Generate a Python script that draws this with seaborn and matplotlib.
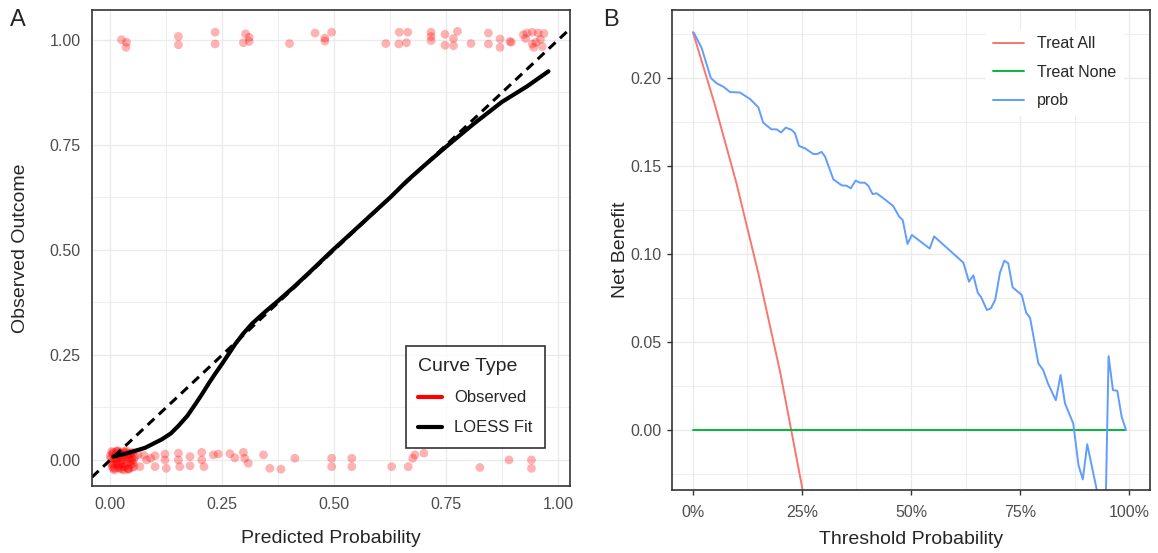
import numpy as np
import pandas as pd
import matplotlib
matplotlib.use("Agg")
import matplotlib.pyplot as plt
import seaborn as sns
from matplotlib.lines import Line2D
from matplotlib.ticker import PercentFormatter

# ---- Panel A: calibration data ----
obs_x = [0.000, 0.004, 0.006, 0.008, 0.010, 0.012, 0.014, 0.016, 0.018, 0.020,
         0.022, 0.024, 0.026, 0.028, 0.030, 0.032, 0.034, 0.036, 0.038, 0.040,
         0.042, 0.045, 0.048, 0.050, 0.053, 0.055, 0.003, 0.009, 0.017, 0.025,
         0.033, 0.041, 0.047, 0.011, 0.021, 0.031, 0.044,
         0.001, 0.005, 0.007, 0.013, 0.015, 0.019, 0.023, 0.027, 0.029, 0.035,
         0.037, 0.039, 0.043, 0.046, 0.049, 0.052, 0.002, 0.006, 0.012, 0.018,
         0.024, 0.030, 0.036, 0.051,
         0.062, 0.066, 0.075, 0.081, 0.090, 0.100, 0.100, 0.122, 0.122, 0.125,
         0.152, 0.152, 0.155, 0.178, 0.178, 0.204, 0.204, 0.209, 0.230, 0.241,
         0.267, 0.278, 0.297, 0.300, 0.308, 0.342, 0.356, 0.381, 0.412, 0.494,
         0.494, 0.539, 0.539, 0.628, 0.665, 0.675, 0.680, 0.700, 0.825, 0.890,
         0.940, 0.940,
         0.025, 0.036, 0.035, 0.152, 0.152, 0.234, 0.234, 0.297, 0.302, 0.310,
         0.310, 0.400, 0.457, 0.479, 0.479, 0.494, 0.615, 0.645, 0.644, 0.664,
         0.661, 0.716, 0.716, 0.716, 0.747, 0.747, 0.766, 0.775, 0.766, 0.805,
         0.844, 0.844, 0.870, 0.870, 0.892, 0.895, 0.922, 0.930, 0.942, 0.955,
         0.968, 0.927, 0.942, 0.950, 0.945, 0.964, 0.960]
obs_y = [0.010, -0.015, 0.018, 0.002, -0.020, 0.012, -0.008, 0.020, -0.018, 0.005,
         -0.012, 0.015, -0.022, 0.000, 0.010, -0.015, 0.018, -0.005, 0.008, -0.020,
         0.014, -0.010, 0.004, 0.018, -0.016, 0.008, 0.020, -0.024, 0.022, -0.006,
         0.016, -0.022, -0.002, 0.004, -0.020, 0.020, 0.012,
         0.004, 0.014, -0.010, 0.020, -0.004, 0.010, 0.018, -0.016, 0.006, -0.010,
         0.012, -0.022, 0.002, 0.016, -0.018, 0.000, -0.008, -0.020, 0.000, -0.012,
         0.008, -0.024, 0.022, -0.008,
         0.012, -0.016, 0.011, 0.000, 0.004, 0.010, -0.016, 0.014, 0.000, -0.020,
         0.016, 0.000, -0.016, 0.008, -0.014, 0.018, 0.000, -0.016, 0.012, 0.014,
         0.015, 0.005, 0.018, 0.004, -0.008, 0.012, -0.020, -0.022, 0.004, 0.004,
         -0.016, 0.004, -0.016, -0.016, -0.016, 0.004, 0.012, 0.016, -0.018, 0.000,
         0.000, -0.020,
         1.000, 0.994, 0.982, 1.008, 0.988, 1.018, 0.990, 0.993, 1.014, 0.996,
         1.006, 0.991, 1.016, 1.004, 0.997, 1.018, 0.991, 1.018, 0.990, 1.018,
         0.993, 1.018, 1.008, 0.998, 1.013, 0.987, 1.003, 1.020, 0.986, 0.991,
         1.016, 0.990, 1.002, 0.982, 0.996, 0.994, 1.012, 1.016, 1.018, 1.016,
         1.015, 1.003, 0.990, 0.994, 0.982, 0.984, 1.001]

loess_x = [0.007, 0.041, 0.078, 0.115, 0.135, 0.152, 0.172, 0.190, 0.205, 0.219,
           0.234, 0.249, 0.264, 0.279, 0.297, 0.316, 0.345, 0.376, 0.410, 0.450,
           0.491, 0.532, 0.580, 0.625, 0.662, 0.700, 0.749, 0.810, 0.874, 0.930,
           0.978]
loess_y = [0.008, 0.017, 0.029, 0.049, 0.063, 0.081, 0.105, 0.133, 0.157, 0.181,
           0.205, 0.228, 0.252, 0.276, 0.301, 0.324, 0.352, 0.380, 0.412, 0.452,
           0.494, 0.534, 0.581, 0.625, 0.664, 0.700, 0.745, 0.799, 0.852, 0.889,
           0.925]

# ---- Panel B: decision curve data ----
all_t = [0.00, 0.05, 0.10, 0.15, 0.20, 0.25, 0.30]
all_nb = [0.226, 0.185, 0.140, 0.089, 0.033, -0.032, -0.106]

none_t = [0.00, 0.99]
none_nb = [0.0, 0.0]

prob_t = [0.002, 0.020, 0.041, 0.054, 0.070, 0.085, 0.108, 0.131, 0.150, 0.161,
          0.180, 0.192, 0.202, 0.213, 0.226, 0.234, 0.243, 0.257, 0.276, 0.285,
          0.295, 0.303, 0.322, 0.341, 0.352, 0.362, 0.373, 0.383, 0.394, 0.402,
          0.412, 0.421, 0.437, 0.459, 0.473, 0.481, 0.492, 0.502, 0.543, 0.553,
          0.620, 0.633, 0.643, 0.653, 0.661, 0.674, 0.683, 0.693, 0.704, 0.714,
          0.723, 0.733, 0.754, 0.764, 0.773, 0.792, 0.803, 0.814, 0.832, 0.843,
          0.853, 0.872, 0.884, 0.894, 0.904, 0.926, 0.936, 0.945, 0.953, 0.963,
          0.973, 0.983, 0.993]
prob_nb = [0.2257, 0.217, 0.200, 0.197, 0.195, 0.192, 0.1917, 0.188, 0.1833, 0.1746,
           0.1708, 0.1708, 0.169, 0.1718, 0.1705, 0.1686, 0.1614, 0.160, 0.1568, 0.1568,
           0.158, 0.1553, 0.1424, 0.139, 0.1388, 0.1373, 0.1417, 0.1405, 0.1405, 0.1388,
           0.134, 0.1345, 0.1316, 0.1273, 0.1212, 0.1193, 0.1057, 0.1108, 0.1031, 0.110,
           0.0951, 0.0843, 0.0879, 0.078, 0.0754, 0.0682, 0.0691, 0.0739, 0.0894, 0.0962,
           0.0947, 0.0811, 0.0767, 0.0667, 0.0638, 0.0379, 0.0341, 0.0265, 0.017, 0.0313,
           0.0152, 0.0038, -0.0199, -0.028, -0.008, -0.034, -0.048, -0.060, 0.042, 0.0227,
           0.0223, 0.0076, 0.0]

sns.set_theme(style="white")
plt.rcParams['font.family'] = ['Liberation Sans', 'DejaVu Sans']

fig = plt.figure(figsize=(11.58, 5.53), dpi=100)
ax1 = fig.add_axes([0.0794, 0.1212, 0.4128, 0.8608])
ax2 = fig.add_axes([0.5803, 0.1140, 0.4128, 0.8680])

grid_col = '#EBEBEB'
tick_col = '#4D4D4D'

# ---- Panel A ----
ax1.set_axisbelow(True)
sns.scatterplot(x=obs_x, y=obs_y, ax=ax1, color='red', alpha=0.3, s=40,
                edgecolor='none', legend=False)
ax1.axline((0, 0), slope=1, color='black', lw=2.2, linestyle=(0, (3, 2)))
sns.lineplot(x=loess_x, y=loess_y, ax=ax1, color='black', lw=3.0, sort=False,
             solid_joinstyle='round', solid_capstyle='round')

ax1.set_xlim(-0.041, 1.026)
ax1.set_ylim(-0.062, 1.071)
ax1.set_xticks([0, 0.25, 0.5, 0.75, 1.0])
ax1.set_yticks([0, 0.25, 0.5, 0.75, 1.0])
ax1.set_xticks([0.125, 0.375, 0.625, 0.875], minor=True)
ax1.set_yticks([0.125, 0.375, 0.625, 0.875], minor=True)
ax1.set_xticklabels(['0.00', '0.25', '0.50', '0.75', '1.00'])
ax1.set_yticklabels(['0.00', '0.25', '0.50', '0.75', '1.00'])
ax1.grid(True, which='major', color=grid_col, lw=1.0)
ax1.grid(True, which='minor', color=grid_col, lw=0.6)
ax1.tick_params(which='both', length=0, labelsize=11.5, labelcolor=tick_col, pad=8)
for sp in ax1.spines.values():
    sp.set_color('#333333')
    sp.set_linewidth(1.2)
ax1.set_xlabel('Predicted Probability', fontsize=14, labelpad=13)
ax1.set_ylabel('Observed Outcome', fontsize=14, labelpad=15)

handles_a = [Line2D([], [], color='red', lw=3), Line2D([], [], color='black', lw=3)]
leg_a = ax1.legend(handles_a, ['Observed', 'LOESS Fit'], title='Curve Type',
                   loc='lower right', bbox_to_anchor=(0.948, 0.08), borderaxespad=0,
                   fontsize=12, title_fontsize=14, frameon=True, fancybox=False,
                   edgecolor='black', handlelength=1.4, borderpad=0.75,
                   labelspacing=0.9, handletextpad=0.75)
leg_a._legend_box.align = 'left'
leg_a.get_frame().set_linewidth(1.2)

# ---- Panel B ----
curves = pd.concat([
    pd.DataFrame({'t': all_t, 'nb': all_nb, 'label': 'Treat All'}),
    pd.DataFrame({'t': none_t, 'nb': none_nb, 'label': 'Treat None'}),
    pd.DataFrame({'t': prob_t, 'nb': prob_nb, 'label': 'prob'}),
])
palette = {'Treat All': '#F8766D', 'Treat None': '#00BA38', 'prob': '#619CFF'}
ax2.set_axisbelow(True)
sns.lineplot(data=curves, x='t', y='nb', hue='label', palette=palette, ax=ax2,
             estimator=None, sort=False, lw=1.4, legend=False)

ax2.set_xlim(-0.048, 1.048)
ax2.set_ylim(-0.034, 0.2386)
ax2.set_xticks([0, 0.25, 0.5, 0.75, 1.0])
ax2.set_xticks([0.125, 0.375, 0.625, 0.875], minor=True)
ax2.set_yticks([0, 0.05, 0.10, 0.15, 0.20])
ax2.set_yticks([-0.025, 0.025, 0.075, 0.125, 0.175, 0.225], minor=True)
ax2.xaxis.set_major_formatter(PercentFormatter(1.0, decimals=0))
ax2.set_yticklabels(['0.00', '0.05', '0.10', '0.15', '0.20'])
ax2.grid(True, which='major', color=grid_col, lw=1.0)
ax2.grid(True, which='minor', color=grid_col, lw=0.6)
ax2.tick_params(which='major', length=3.6, width=1.0, color='#333333',
                labelsize=11.5, labelcolor=tick_col, pad=4, bottom=True, left=True)
ax2.tick_params(axis='x', which='major', pad=7)
ax2.tick_params(which='minor', length=0)
for sp in ax2.spines.values():
    sp.set_color('#333333')
    sp.set_linewidth(1.2)
ax2.set_xlabel('Threshold Probability', fontsize=14, labelpad=8)
ax2.set_ylabel('Net Benefit', fontsize=14, labelpad=1)

handles_b = [Line2D([], [], color=palette[k], lw=1.4) for k in palette]
leg_b = ax2.legend(handles_b, list(palette.keys()), loc='upper right',
                   bbox_to_anchor=(0.96, 0.975), fontsize=11.5, frameon=True,
                   fancybox=False, edgecolor='white', facecolor='white',
                   handlelength=2.0, labelspacing=0.85, framealpha=1.0)

fig.text(0.009, 0.963, 'A', fontsize=17, va='center', ha='left')
fig.text(0.521, 0.963, 'B', fontsize=17, va='center', ha='left')

fig.savefig('out.png', dpi=100)
